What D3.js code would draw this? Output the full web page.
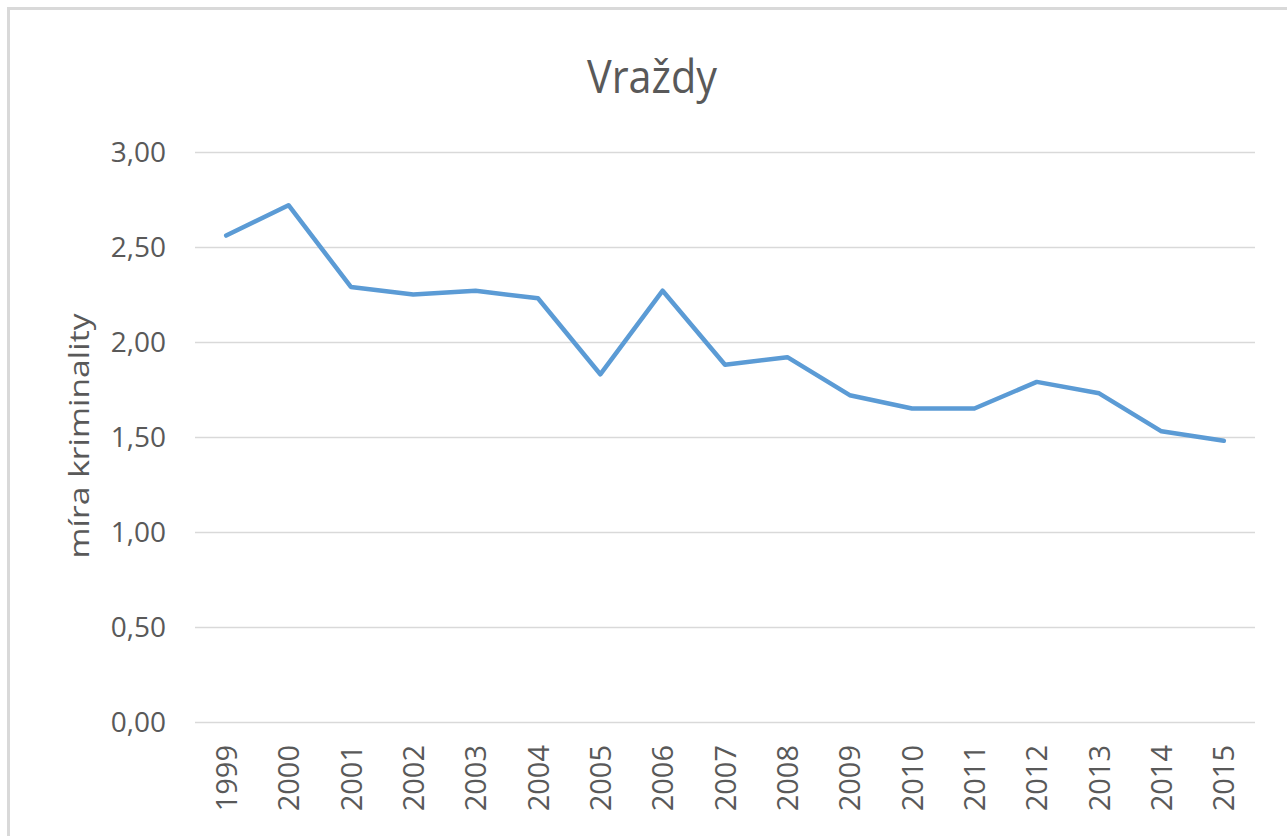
<!DOCTYPE html>
<html>
<head>
<meta charset="utf-8">
<script src="https://cdn.jsdelivr.net/npm/d3@7"></script>
<style>
  body { margin: 0; background: #fff; }
  text { font-family: "Open Sans", "Noto Sans", sans-serif; fill: #595959; }
</style>
</head>
<body>
<script>
var width  = 1287;
var height = 836;

var years  = ['1999','2000','2001','2002','2003','2004','2005','2006','2007',
              '2008','2009','2010','2011','2012','2013','2014','2015'];
var values = [2.56, 2.72, 2.29, 2.25, 2.27, 2.23, 1.83, 2.27, 1.88,
              1.92, 1.72, 1.65, 1.65, 1.79, 1.73, 1.53, 1.48];
var yTicks = [0, 0.5, 1, 1.5, 2, 2.5, 3];

var chartTitle = 'Vraždy';
var yTitle     = 'míra kriminality';

var plotLeft = 195, plotRight = 1255, plotTop = 152, plotBottom = 722;

var svg = d3.select('body')
            .append('svg')
            .attr('width', width)
            .attr('height', height);

// chart border (runs off the right and bottom edge)
svg.append('rect')
   .attr('x', 8.5).attr('y', 8.5)
   .attr('width', 1300).attr('height', 900)
   .attr('fill', 'none')
   .attr('stroke', '#d9d9d9')
   .attr('stroke-width', 3);

var x = d3.scalePoint()
          .domain(years)
          .range([plotLeft, plotRight])
          .padding(0.5);

var y = d3.scaleLinear()
          .domain([0, 3])
          .range([plotBottom, plotTop]);

var fmt = function(d){ return d3.format('.2f')(d).replace('.', ','); };

// grid + y labels
var yAxis = svg.append('g')
               .attr('transform', 'translate(' + plotLeft + ',0)')
               .call(d3.axisLeft(y)
                       .tickValues(yTicks)
                       .tickFormat(fmt)
                       .tickSize(-(plotRight - plotLeft))
                       .tickPadding(29));

yAxis.select('.domain').remove();
yAxis.selectAll('line')
     .attr('stroke', '#d9d9d9')
     .attr('stroke-width', 1.5);
yAxis.selectAll('text')
     .attr('font-size', '28px')
     .attr('dy', '0.35em');

// x labels
var xAxis = svg.append('g')
               .attr('transform', 'translate(0,' + plotBottom + ')')
               .call(d3.axisBottom(x).tickSize(0));

xAxis.select('.domain').remove();
xAxis.selectAll('text')
     .attr('font-size', '29px')
     .attr('transform', 'rotate(-90)')
     .attr('text-anchor', 'end')
     .attr('x', -23)
     .attr('y', 0)
     .attr('dy', '0.35em');

// line
var line = d3.line()
             .x(function(d, i){ return x(years[i]); })
             .y(function(d){ return y(d); });

svg.append('path')
   .datum(values)
   .attr('d', line)
   .attr('fill', 'none')
   .attr('stroke', '#5b9bd5')
   .attr('stroke-width', 4.5)
   .attr('stroke-linejoin', 'round')
   .attr('stroke-linecap', 'round');

// titles
svg.append('text')
   .attr('x', 652)
   .attr('y', 93)
   .attr('text-anchor', 'middle')
   .attr('font-size', '46px')
   .attr('textLength', 130)
   .attr('lengthAdjust', 'spacingAndGlyphs')
   .text(chartTitle);

svg.append('text')
   .attr('transform', 'translate(89,436) rotate(-90)')
   .attr('text-anchor', 'middle')
   .attr('font-size', '28px')
   .attr('textLength', 245)
   .attr('lengthAdjust', 'spacingAndGlyphs')
   .text(yTitle);
</script>
</body>
</html>
